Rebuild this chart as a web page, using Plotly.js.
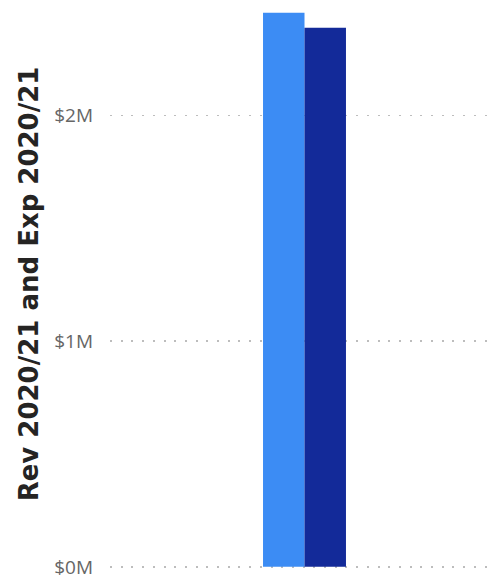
<!DOCTYPE html>
<html>
<head>
<meta charset="utf-8">
<script src="https://cdn.plot.ly/plotly-3.0.1.min.js"></script>
<style>html,body{margin:0;padding:0;background:#fff;}#chart{width:494px;height:580px;}</style>
</head>
<body>
<div id="chart"></div>
<script>
const categories = ['2020/21'];
const seriesNames = ['Rev 2020/21', 'Exp 2020/21'];
const revValues = [2455000];
const expValues = [2389000];
const tickVals = [0, 1000000, 2000000];
const tickText = ['$0M', '$1M', '$2M'];
const axisTitle = 'Rev 2020/21 and Exp 2020/21';

const traces = [
  {type: 'bar', name: seriesNames[0], x: categories, y: revValues, marker: {color: '#3C8CF4', line: {width: 0}}},
  {type: 'bar', name: seriesNames[1], x: categories, y: expValues, marker: {color: '#132A99', line: {width: 0}}}
];

const layout = {
  width: 494, height: 580,
  margin: {l: 110, r: 0, t: 0, b: 12, pad: 0},
  paper_bgcolor: '#fff', plot_bgcolor: '#fff',
  showlegend: false,
  barmode: 'group',
  bargap: 0.784,
  bargroupgap: 0,
  xaxis: {
    type: 'category', range: [-0.5065, 0.4935],
    showticklabels: false, showgrid: false, zeroline: false, showline: false, ticks: ''
  },
  yaxis: {
    range: [-5000, 2511700],
    tickvals: tickVals, ticktext: tickText,
    showgrid: true, gridcolor: '#bdbdbd', gridwidth: 1.5, griddash: '2px,8.7px',
    zeroline: false, showline: false, ticks: '',
    ticklabelstandoff: 16,
    ticklabeloverflow: 'allow',
    tickfont: {family: 'Open Sans, sans-serif', size: 19, color: '#666666'},
    title: {text: axisTitle, font: {family: 'DejaVu Sans, sans-serif', size: 26, color: '#252423', weight: 'bold'}, standoff: 8}
  }
};

Plotly.newPlot('chart', traces, layout, {displayModeBar: false, staticPlot: true});
</script>
</body>
</html>
